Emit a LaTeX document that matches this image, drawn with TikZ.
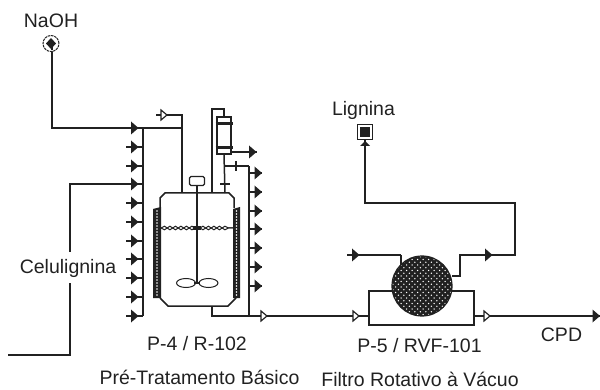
\documentclass[tikz,border=0pt]{standalone}
\usepackage{fontspec}
\setmainfont{Liberation Sans}
\usetikzlibrary{decorations.pathmorphing,calc}
\definecolor{ink}{gray}{0.13}
\tikzset{
  x=1pt,y=-1pt,
  conn/.style={draw=ink,line width=1.5pt,line join=miter},
  lab/.style={inner sep=0pt,text=ink,font=\fontsize{19.5}{21}\selectfont},
  farrow/.pic={\fill[ink] (-4,-6.5)--(3.5,0)--(-4,6.5)--cycle; \draw[ink,line width=1.5pt] (-9,0)--(3.5,0);},
  valve/.pic={\draw[ink,line width=1.2pt,fill=white] (-3,-5)--(3,0)--(-3,5)--cycle;},
}
\begin{document}
\begin{tikzpicture}
\useasboundingbox (0,0) rectangle (600,390);
% named points
\coordinate (naoh) at (52,50);
\coordinate (naohc) at (52,128);
\coordinate (busTop) at (143,128);
\coordinate (busBot) at (143,316);
\coordinate (celA) at (8,355);
\coordinate (celB) at (70,355);
\coordinate (celC) at (70,283);
\coordinate (celD) at (70,252);
\coordinate (celE) at (70,184);
\coordinate (rbusTop) at (249,166);
\coordinate (rbusBot) at (249,316);
\coordinate (v1) at (264,316);
\coordinate (v2) at (356,316);
\coordinate (v3) at (487,316);
\coordinate (cpd) at (600,316);
% left bus and arrows
\draw[conn] (busTop) -- (busBot);
\foreach \y in {128,147,166,184,203,222,241,259,278,297,316}
  {\draw[conn] (134,\y) -- (143,\y); \pic at (135,\y) {farrow};}
\draw[conn] (naoh) -- (naohc) -- (busTop);
\draw[conn] (celA) -- (celB) -- (celC);
\draw[conn] (celD) -- (celE) -- (134,184);
% recycle valve at top left
\coordinate (vtop) at (164,115);
\draw[conn] (busTop) -- (182,128);
\draw[conn] (182,193) -- (182,115) -- (vtop);
\draw[conn] (156,115) -- (vtop);
\pic at (vtop) {valve};
% jackets
\foreach \xa/\xb/\xc in {153/161/157,233/240/236.5}{
  \fill[ink] (\xa,209) -- (\xb,207) -- (\xb,298) -- (\xa,298) -- cycle;
  \foreach \yy in {211,214,...,296}{
    \fill[white] (\xc,\yy) circle (0.8);
  }
}
% vessel
\draw[conn] (160,208) -- (160,198) -- (165,193) -- (229,193) -- (234,198) -- (234,208);
\draw[conn] (160,298) -- (168,306) -- (228,306) -- (236,298);
% level
\draw[ink,line width=1pt,decorate,decoration={snake,amplitude=1.8,segment length=11}] (161,228) -- (233,228);
\draw[ink,line width=1pt,decorate,decoration={snake,amplitude=1.8,segment length=11,mirror}] (161,228) -- (233,228);
% agitator
\node[draw=ink,line width=1.3pt,rounded corners=1.5pt,fill=white,minimum width=15pt,minimum height=9pt,inner sep=0pt] (motor) at (197,181) {};
\coordinate (imp) at (197,283);
\draw[conn] (motor.south) -- (imp);
\fill[ink] (193,226) rectangle (201,230);
\draw[ink,line width=1pt] (186,283) ellipse (9.5 and 4.5);
\draw[ink,line width=1pt] (208.5,283) ellipse (9.5 and 4.5);
\draw[ink,line width=2.5pt] (194,283) -- (200,283);
% condenser
\node[draw=ink,line width=1.3pt,fill=white,minimum width=14pt,minimum height=37pt,inner sep=0pt] (cond) at (224,135.5) {};
\draw[ink,line width=3pt] (215.5,123.5) -- (233,123.5);
\draw[ink,line width=3pt] (215.5,148) -- (233,148);
\draw[conn] (212,193) -- (212,109) -- (224,109) -- (cond.north);
\draw[conn] (cond.south) -- (225,193);
\draw[ink,line width=1.2pt] (220,184) -- (230,184);
\draw[conn] (231,152) -- (255,152);
\pic at (253,152) {farrow};
\draw[conn] (225,166) -- (rbusTop);
\draw[ink,line width=1.2pt] (236,161) -- (236,171);
% right bus
\draw[conn] (rbusTop) -- (rbusBot);
\foreach \y in {173,192,211,229,248,267,286}
  {\draw[conn] (249,\y) -- (258,\y); \pic at (258.5,\y) {farrow};}
% reactor outlet to filter
\draw[conn] (212,306) -- (212,316) -- (rbusBot) -- (v1) -- (v2) -- (369,316);
\pic at (v1) {valve};
\pic at (v2) {valve};
% filter
\draw[conn] (369,291) rectangle (474,325);
\draw[conn] (401,255) -- (401,270);
\draw[conn] (474,316) -- (v3) -- (cpd);
\pic at (v3) {valve};
\pic at (596.5,316) {farrow};
\begin{scope}
\clip (422,286) circle (30);
\fill[ink] (390,254) rectangle (454,318);
\foreach \i in {0,...,12}
  \foreach \j in {0,...,24}{
    \pgfmathsetmacro{\xx}{390+\i*5.5+mod(\j,2)*2.75}
    \pgfmathsetmacro{\yy}{254+\j*2.75}
    \fill[white] (\xx,\yy) circle (0.75);
  }
\end{scope}
\draw[ink,line width=1.2pt] (422,286) circle (30);
% filter feed and outlet
\draw[conn] (352,255) -- (401,255);
\pic at (356,255) {farrow};
\node[draw=ink,line width=1.8pt,fill=white,minimum size=15pt,inner sep=0pt] (lign) at (365,132) {};
\fill[ink] (360,127) rectangle (370,137);
\coordinate (c1) at (452,276);
\coordinate (c2) at (460,276);
\coordinate (c3) at (460,255);
\coordinate (c4) at (515,255);
\coordinate (c5) at (515,203);
\coordinate (c6) at (365,203);
\draw[conn] (c1) -- (c2) -- (c3) -- (c4) -- (c5) -- (c6) -- (lign.south);
\pic at (489,255) {farrow};
\fill[ink] (360,146) -- (365,141) -- (370,146) -- cycle;
% NaOH symbol
\node[draw=ink,line width=1pt,circle,fill=white,minimum size=16pt,inner sep=0pt,dash pattern=on 2.5pt off 0.8pt] (naohsym) at (51,43.5) {};
\fill[ink] (51,38) -- (56,43.5) -- (51,49) -- (46,43.5) -- cycle;
\draw[conn] (52,43.5) -- (naoh);
% labels
\node[lab] (tnaoh) at (51,21) {NaOH};
\node[lab] (tlign) at (363.5,110) {Lignina};
\node[lab] (tcel) at (68,268) {Celulignina};
\node[lab] (tp4) at (197,343.5) {P-4 / R-102};
\node[lab] (tp5) at (419.5,346) {P-5 / RVF-101};
\node[lab] (tcpd) at (561.5,335) {CPD};
\node[lab] (tpre) at (199.5,377) {Pré-Tratamento Básico};
\node[lab] (tfil) at (420,379.5) {Filtro Rotativo à Vácuo};
\end{tikzpicture}
\end{document}
